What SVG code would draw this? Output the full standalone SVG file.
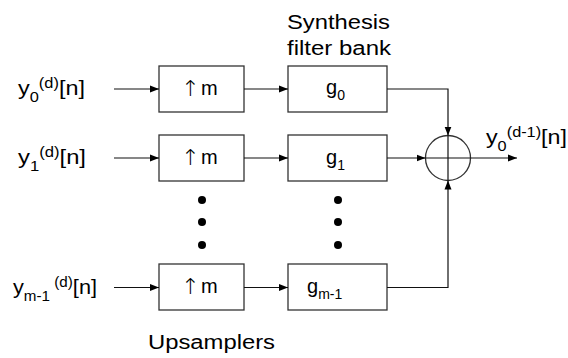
<svg xmlns="http://www.w3.org/2000/svg" width="568" height="358" viewBox="0 0 568 358">
<style>
text{font-family:"Liberation Sans",Arial,sans-serif;font-size:20px;fill:#000}
.s{font-size:14px}
.ar{font-family:"DejaVu Sans",sans-serif;font-size:22px;font-weight:200}
.box{fill:#fff;stroke:#333;stroke-width:1.3}
.ln{fill:none;stroke:#111;stroke-width:1.2}
.dot{fill:#000}
</style>
<defs>
<marker id="ah" markerUnits="userSpaceOnUse" markerWidth="9" markerHeight="8" refX="9" refY="4" orient="auto">
<path d="M0,0.5 L9,4 L0,7.5 z" fill="#000"/>
</marker>
</defs>
<g id="labels">
<text x="287" y="29" font-size="21" textLength="103" lengthAdjust="spacingAndGlyphs">Synthesis</text>
<text x="287" y="55" font-size="21" textLength="104" lengthAdjust="spacingAndGlyphs">filter bank</text>
<text x="148" y="349" font-size="21" textLength="127" lengthAdjust="spacingAndGlyphs">Upsamplers</text>
</g>
<g id="in0"><text x="18" y="95" textLength="67" lengthAdjust="spacingAndGlyphs">y<tspan class="s" dy="7">0</tspan><tspan class="s" dy="-14">(d)</tspan><tspan dy="7">[n]</tspan></text></g>
<g id="in1"><text x="18" y="164" textLength="68" lengthAdjust="spacingAndGlyphs">y<tspan class="s" dy="7">1</tspan><tspan class="s" dy="-14">(d)</tspan><tspan dy="7">[n]</tspan></text></g>
<g id="inm"><text x="13" y="294" textLength="84" lengthAdjust="spacingAndGlyphs">y<tspan class="s" dy="7">m-1 </tspan><tspan class="s" dy="-14">(d)</tspan><tspan dy="7">[n]</tspan></text></g>
<g id="up0"><rect class="box" x="159" y="66" width="85" height="46"/><text x="181" y="96"><tspan class="ar">↑</tspan><tspan x="201" dy="-1">m</tspan></text></g>
<g id="up1"><rect class="box" x="159" y="135" width="85" height="46"/><text x="181" y="165"><tspan class="ar">↑</tspan><tspan x="201" dy="-1">m</tspan></text></g>
<g id="upm"><rect class="box" x="159" y="264" width="85" height="46"/><text x="181" y="294"><tspan class="ar">↑</tspan><tspan x="201" dy="-1">m</tspan></text></g>
<g id="g0"><rect class="box" x="288" y="66" width="99" height="46"/><text x="326" y="94">g<tspan class="s" dy="6">0</tspan></text></g>
<g id="g1"><rect class="box" x="288" y="135" width="99" height="46"/><text x="326" y="164">g<tspan class="s" dy="6">1</tspan></text></g>
<g id="gm"><rect class="box" x="288" y="264" width="99" height="46"/><text x="307" y="293">g<tspan class="s" dy="6">m-1</tspan></text></g>
<g id="sum"><circle cx="448" cy="158" r="22.5" fill="none" stroke="#333" stroke-width="1.3"/><path class="ln" d="M425.5,158 H470.5 M448,135.5 V180.5"/></g>
<g id="out"><text x="486" y="144" textLength="81" lengthAdjust="spacingAndGlyphs">y<tspan class="s" dy="7">0</tspan><tspan class="s" dy="-14">(d-1)</tspan><tspan dy="7">[n]</tspan></text></g>
<g id="dots">
<circle class="dot" cx="202" cy="200" r="4"/><circle class="dot" cx="202" cy="222" r="4"/><circle class="dot" cx="202" cy="245" r="4"/>
<circle class="dot" cx="338" cy="200" r="4"/><circle class="dot" cx="338" cy="222" r="4"/><circle class="dot" cx="338" cy="245" r="4"/>
</g>
<g id="connectors">
<path class="ln" d="M114,89 H159" marker-end="url(#ah)"/>
<path class="ln" d="M114,158 H159" marker-end="url(#ah)"/>
<path class="ln" d="M114,287.5 H159" marker-end="url(#ah)"/>
<path class="ln" d="M244,89 H288" marker-end="url(#ah)"/>
<path class="ln" d="M244,158 H288" marker-end="url(#ah)"/>
<path class="ln" d="M244,287.5 H288" marker-end="url(#ah)"/>
<path class="ln" d="M387,89 H448 V135.5" marker-end="url(#ah)"/>
<path class="ln" d="M387,158 H425.5" marker-end="url(#ah)"/>
<path class="ln" d="M387,287.5 H448 V180.5" marker-end="url(#ah)"/>
<path class="ln" d="M470.5,158 H517" marker-end="url(#ah)"/>
</g>
</svg>
